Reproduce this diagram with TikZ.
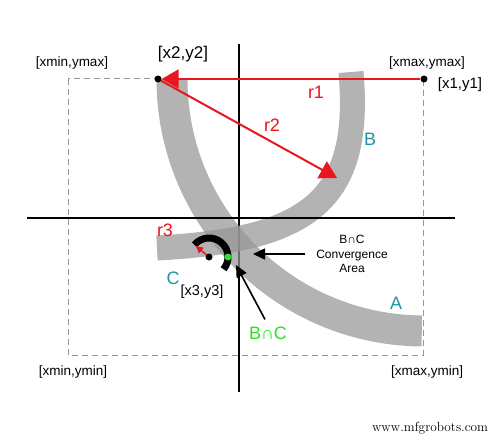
\documentclass[tikz,border=0pt]{standalone}
\usepackage{fontspec}
\newfontfamily\lab{Liberation Sans}
\usetikzlibrary{arrows.meta,calc}
\definecolor{rd}{RGB}{232,22,30}
\definecolor{tl}{RGB}{28,150,165}
\definecolor{gn}{RGB}{40,225,40}
\definecolor{bandgray}{RGB}{150,150,150}
\definecolor{dashgray}{RGB}{150,150,150}
\begin{document}
\begin{tikzpicture}[x=1pt,y=-1pt,
  txt/.style={inner sep=0pt, font=\lab\fontsize{#1}{#1}\selectfont},
  dot/.style={circle, fill=black, inner sep=0pt, minimum size=7pt},
  gdot/.style={circle, fill=gn, inner sep=0pt, minimum size=7pt},
  axis/.style={line width=2pt, black},
  band/.style={line width=#1, draw=bandgray, draw opacity=0.72, line cap=butt},
  redarrow/.style={draw=rd, line width=2pt, -{Triangle[length=17pt,width=19pt]}},
  blackarrow/.style={draw=black, line width=1.6pt, -{Triangle[length=12pt,width=11pt]}},
  framebox/.style={draw=dashgray, line width=1pt, dash pattern=on 6pt off 4pt}]
\useasboundingbox (0,0) rectangle (500,438);
\fill[white] (0,0) rectangle (500,438);
% dashed frame
\draw[framebox] (68,79) rectangle (423,355);
% vertical axis
\coordinate (vtop) at (239,44);
\coordinate (vbot) at (239,392);
\draw[axis] (vtop) -- (vbot);
% bands
\draw[band=31pt] (172,79) arc[start angle=180, end angle=90.5, radius=252];
\draw[band=25pt] (351,72) .. controls (362,200) and (310,240) .. (157,248);
% horizontal axis
\coordinate (hl) at (27,218);
\coordinate (hr) at (455,218);
\draw[axis] (hl) -- (hr);
% points
\node[dot] (x2) at (158,79) {};
\node[dot] (x1) at (424,79) {};
\node[dot] (x3) at (209,257) {};
\coordinate (bpt) at (337,178);
% radius arrows
\draw[redarrow] (x1) -- (x2);
\draw[redarrow] (x2) -- (bpt);
% circle C
\draw[line width=7pt, line cap=butt] ($(x3)+(220:19)$) arc[start angle=220, end angle=400, radius=19];
\coordinate (r3end) at ($(x3)+(220:17)$);
\draw[draw=rd, line width=1.5pt, -{Triangle[length=7pt,width=7pt]}] (x3) -- (r3end);
\node[dot, minimum size=6pt] at (x3) {};
\node[gdot] (gd) at (228,257) {};
% labels
\node[txt=13.5] (lxmaxy) at (72,63) {[xmin,ymax]};
\node[txt=13.5] (lxmaxymax) at (427,63) {[xmax,ymax]};
\node[txt=13.5] (lxminymin) at (73,372) {[xmin,ymin]};
\node[txt=13.5] (lxmaxymin) at (427,372) {[xmax,ymin]};
\node[txt=17] (lx2) at (183,54) {[x2,y2]};
\node[txt=15] (lx1) at (460,85) {[x1,y1]};
\node[txt=14.5] (lx3) at (202,292) {[x3,y3]};
\node[txt=18, text=rd] (lr1) at (316,92) {r1};
\node[txt=18, text=rd] (lr2) at (272,125) {r2};
\node[txt=18, text=rd] (lr3) at (165,230) {r3};
\node[txt=18, text=tl] (lA) at (396,303) {A};
\node[txt=18, text=tl] (lB) at (370,139) {B};
\node[txt=18, text=tl] (lC) at (173,278) {C};
\node[txt=18, text=gn] (lbc) at (268,333) {B∩C};
\node[inner sep=0pt, align=center, font=\lab\fontsize{12}{14.6}\selectfont] (conv) at (352,254) {B∩C\\Convergence\\Area};
% pointer arrows
\coordinate (convtip) at (253,254);
\coordinate (bctip) at (236,265);
\draw[blackarrow] ($(conv.west)+(-11,0)$) -- (convtip);
\draw[blackarrow] ($(lbc.north)+(-3,-7)$) -- (bctip);
% watermark
\node[inner sep=0pt, font=\fontsize{13.3}{14}\selectfont] (wm) at (430,428) {www.mfgrobots.com};
\end{tikzpicture}
\end{document}
